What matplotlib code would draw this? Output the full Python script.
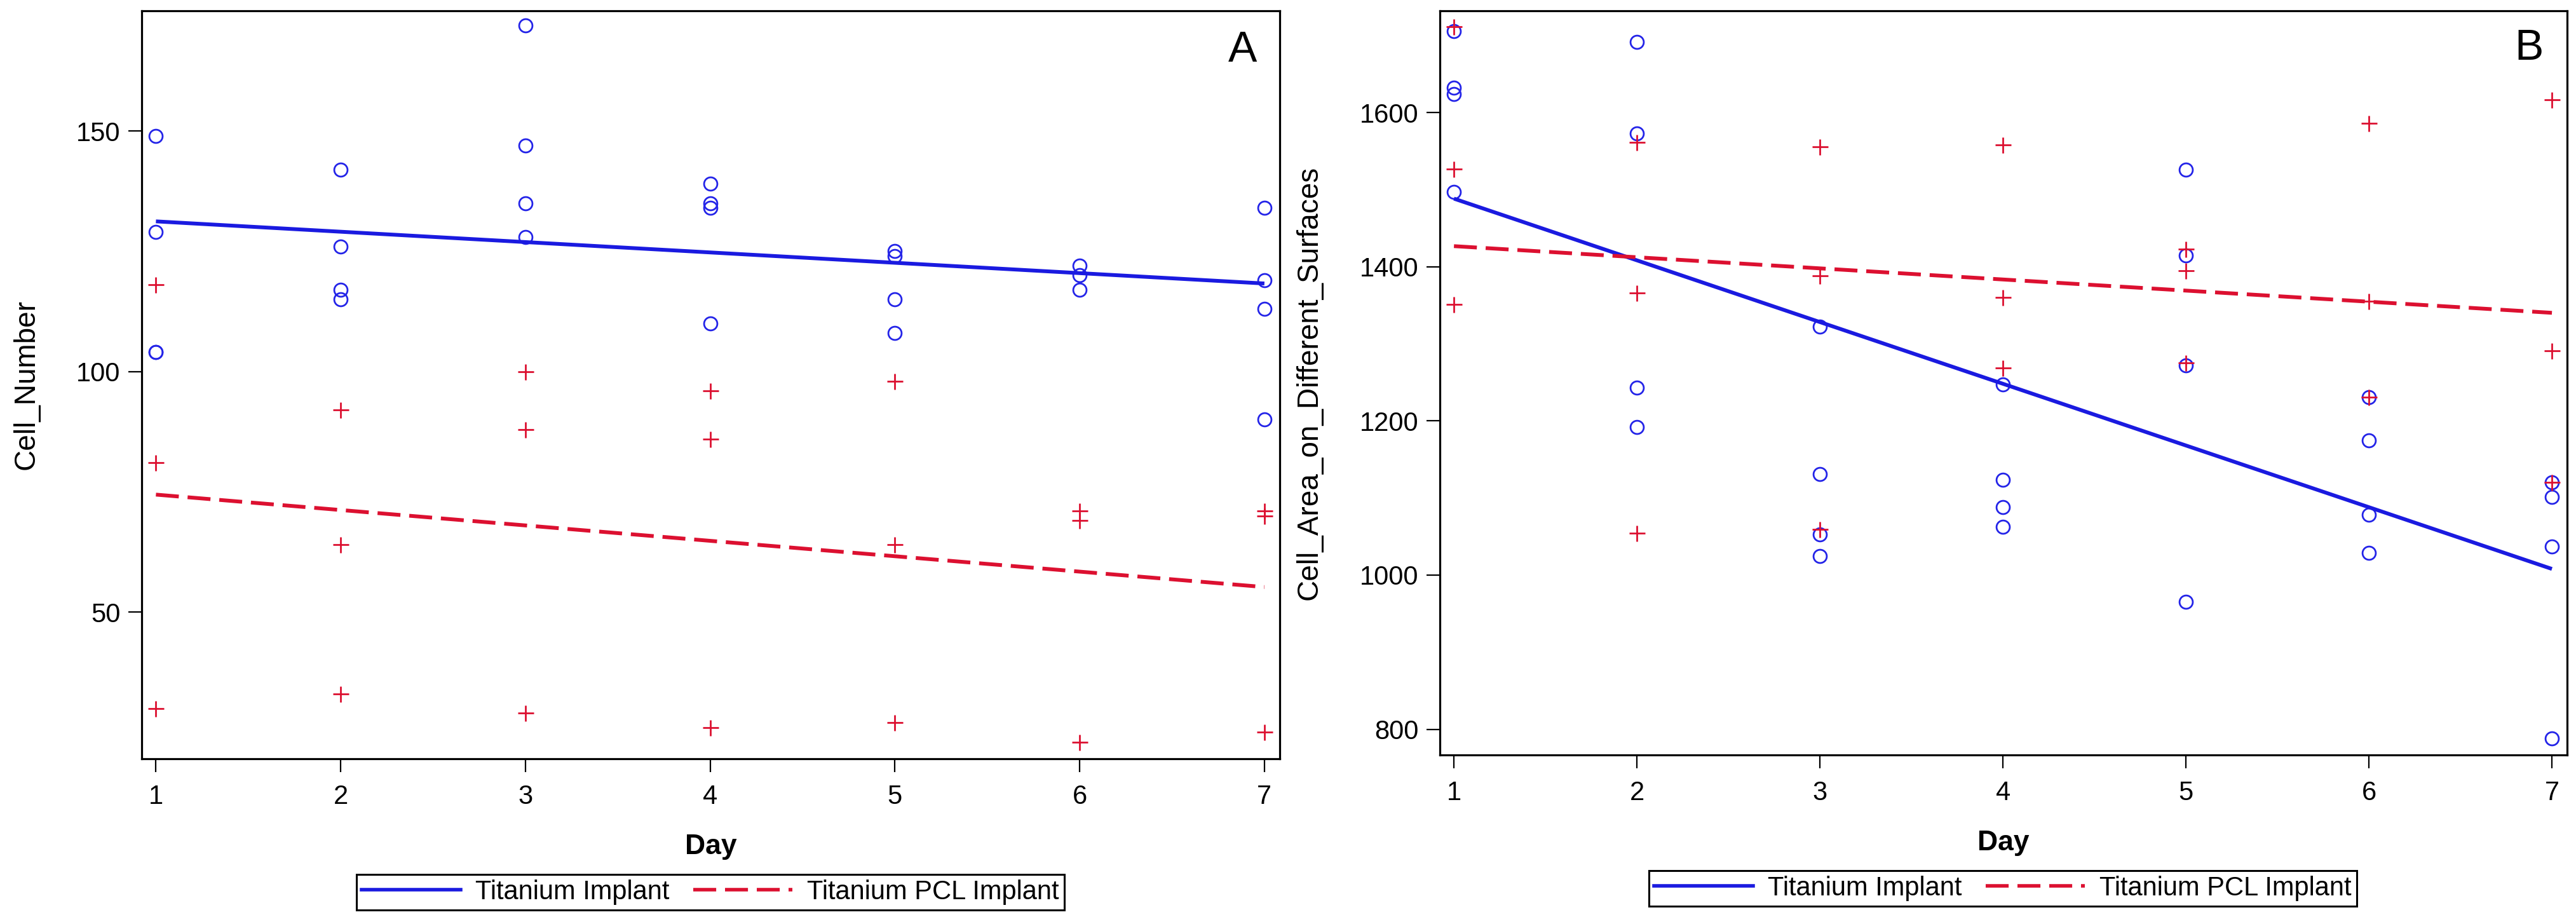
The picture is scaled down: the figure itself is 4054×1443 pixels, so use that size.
import numpy as np
import matplotlib
matplotlib.use("Agg")
import matplotlib.pyplot as plt
from matplotlib.lines import Line2D

plt.rcParams['font.family'] = ['Liberation Sans', 'DejaVu Sans']
plt.rcParams['lines.scale_dashes'] = False

# ---------------- data ----------------
days = [1, 2, 3, 4, 5, 6, 7]

# Panel A: Cell_Number
a_ti_day = [1, 1, 1, 1, 2, 2, 2, 2, 3, 3, 3, 3, 4, 4, 4, 4, 5, 5, 5, 5, 6, 6, 6, 7, 7, 7, 7]
a_ti_val = [149, 129, 104, 104, 142, 126, 117, 115, 172, 147, 135, 128, 139, 135, 134, 110,
            125, 124, 115, 108, 122, 120, 117, 134, 119, 113, 90]
a_pcl_day = [1, 1, 1, 2, 2, 2, 3, 3, 3, 4, 4, 4, 5, 5, 5, 6, 6, 6, 7, 7, 7]
a_pcl_val = [118, 81, 30, 92, 64, 33, 100, 88, 29, 96, 86, 26, 98, 64, 27, 71, 69, 23, 71, 70, 25]

# Panel B: Cell_Area_on_Different_Surfaces
b_ti_day = [1, 1, 1, 1, 2, 2, 2, 2, 3, 3, 3, 3, 4, 4, 4, 4, 5, 5, 5, 5, 6, 6, 6, 6, 7, 7, 7, 7]
b_ti_val = [1706, 1632, 1624, 1497, 1692, 1573, 1243, 1192, 1322, 1131, 1053, 1025,
            1247, 1124, 1088, 1063, 1526, 1415, 1272, 965, 1231, 1175, 1078, 1029,
            1120, 1101, 1037, 788]
b_pcl_day = [1, 1, 1, 2, 2, 2, 3, 3, 3, 4, 4, 4, 5, 5, 5, 6, 6, 6, 7, 7, 7]
b_pcl_val = [1711, 1527, 1351, 1561, 1366, 1054, 1556, 1388, 1059, 1558, 1360, 1269,
             1423, 1395, 1275, 1586, 1355, 1231, 1617, 1291, 1120]

series_labels = ["Titanium Implant", "Titanium PCL Implant"]
a_yticks = [50, 100, 150]
b_yticks = [800, 1000, 1200, 1400, 1600]

BLUE = '#1a1ae0'
MBLUE = '#2424e8'
RED = '#dc1030'

W, H = 4055, 1443
fig = plt.figure(figsize=(W / 100, H / 100), dpi=100)


def px_axes(l, r, t, b):
    return fig.add_axes([l / W, 1 - b / H, (r - l) / W, (b - t) / H])


def draw_panel(ax, ti_d, ti_v, pcl_d, pcl_v, ylim, yticks, ylabel, letter,
               ylab_x, xlab_y, letter_xy):
    ax.plot(ti_d, ti_v, linestyle='none', marker='o', markersize=15,
            markerfacecolor='none', markeredgecolor=MBLUE, markeredgewidth=2.0, zorder=3)
    ax.plot(pcl_d, pcl_v, linestyle='none', marker='+', markersize=18,
            markeredgecolor=RED, markeredgewidth=2.0, zorder=3)
    xs = np.array([days[0], days[-1]], dtype=float)
    c1 = np.polyfit(ti_d, ti_v, 1)
    c2 = np.polyfit(pcl_d, pcl_v, 1)
    ax.plot(xs, np.polyval(c1, xs), color=BLUE, lw=4.3, solid_capstyle='butt', zorder=4)
    ax.plot(xs, np.polyval(c2, xs), color=RED, lw=4.3, linestyle=(0, (26, 10)),
            dash_capstyle='butt', zorder=4)
    ax.set_xlim(0.923, 7.083)
    ax.set_ylim(*ylim)
    ax.set_xticks(days)
    ax.set_yticks(yticks)
    ax.tick_params(axis='both', direction='out', length=15, width=1.6,
                   labelsize=30, colors='black')
    ax.tick_params(axis='x', pad=14)
    ax.tick_params(axis='y', pad=9)
    for s in ax.spines.values():
        s.set_linewidth(2.3)
        s.set_color('black')
    ax.set_ylabel(ylabel, fontsize=33)
    ax.yaxis.label.set_va('center')
    ax.yaxis.set_label_coords(ylab_x, 0.5)
    ax.set_xlabel('Day', fontsize=32, fontweight='bold')
    ax.xaxis.label.set_va('center')
    ax.xaxis.set_label_coords(0.5, xlab_y)
    ax.text(letter_xy[0], letter_xy[1], letter, transform=ax.transAxes,
            ha='right', va='top', fontsize=49)


axA = px_axes(223, 2014, 17, 1194)
axB = px_axes(2266, 4040, 17, 1188)

draw_panel(axA, a_ti_day, a_ti_val, a_pcl_day, a_pcl_val, (19.5, 175), a_yticks,
           'Cell_Number', 'A', -0.101, -0.118, (0.980, 0.9745))
draw_panel(axB, b_ti_day, b_ti_val, b_pcl_day, b_pcl_val, (766.7, 1732), b_yticks,
           'Cell_Area_on_Different_Surfaces', 'B', -0.1156, -0.1187, (0.979, 0.977))

handles = [Line2D([], [], color=BLUE, lw=4.0),
           Line2D([], [], color=RED, lw=4.0, linestyle=(0, (26, 10)), dash_capstyle='butt')]

for cx, cy in [(1118, 1404), (3152, 1398)]:
    leg = fig.legend(handles, series_labels, loc='center',
                     bbox_to_anchor=(cx / W, 1 - cy / H), ncol=2, fontsize=30,
                     frameon=True, fancybox=False, shadow=False, framealpha=1,
                     edgecolor='black', handlelength=3.75, handletextpad=0.55,
                     columnspacing=0.9, borderpad=0.2, borderaxespad=0)
    leg.get_frame().set_linewidth(2.2)

fig.savefig('out.png', dpi=100, facecolor='white')
